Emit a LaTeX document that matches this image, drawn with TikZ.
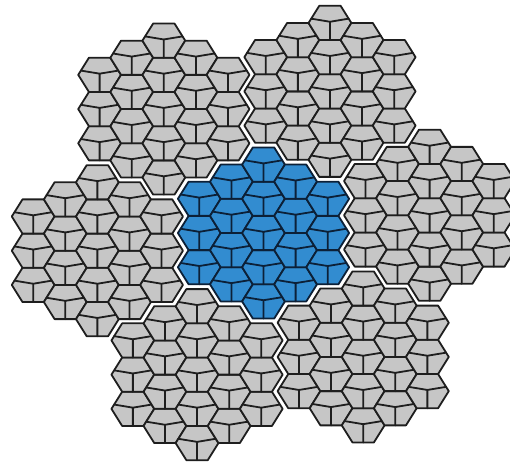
\documentclass[tikz,border=0pt]{standalone}
\definecolor{cellgray}{RGB}{198,198,198}
\definecolor{cellblue}{RGB}{50,140,208}
\definecolor{edgegray}{RGB}{30,30,30}
\definecolor{edgeblue}{RGB}{12,32,55}
\tikzset{
  celledge/.style={line width=1.8pt, line join=round, line cap=round},
}
\newcommand{\hexunit}[4]{%
  \begin{scope}[shift={(#1,#2)}, x=21.4pt, y=19.75pt]
    \filldraw[celledge, fill=#3, draw=#4] (1,0) -- (0.5,0.866) -- (-0.5,0.866) -- (-1,0) -- (-0.5,-0.866) -- (0.5,-0.866) -- cycle;
    \draw[celledge, draw=#4] (-0.875,0.2165) -- (0,0.06) -- (0.875,0.2165) (0,0.06) -- (0,-0.866);
  \end{scope}}
\begin{document}
\begin{tikzpicture}[x=1pt,y=1pt]
\useasboundingbox (0,0) rectangle (510,461);
\def\bx{263.5}
\def\by{228}
\def\w{32.1}
\def\h{34.21}
\def\ep{1.035}
\foreach \pq/\pr/\fc/\dc in {0/0/cellblue/edgeblue, 5/-2/cellgray/edgegray, 2/3/cellgray/edgegray, -3/5/cellgray/edgegray, -5/2/cellgray/edgegray, -2/-3/cellgray/edgegray, 3/-5/cellgray/edgegray} {
  \foreach \q/\r in {-2/0,-2/1,-2/2,-1/-1,-1/0,-1/1,-1/2,0/-2,0/-1,0/0,0/1,0/2,1/-2,1/-1,1/0,1/1,2/-2,2/-1,2/0} {
    \pgfmathsetmacro\cx{\bx + \ep*\w*(\pq) + \w*(\q)}
    \pgfmathsetmacro\cy{\by + \ep*\h*((\pr)+(\pq)/2) + \h*((\r)+(\q)/2)}
    \hexunit{\cx}{\cy}{\fc}{\dc}
  }
}
\end{tikzpicture}
\end{document}
